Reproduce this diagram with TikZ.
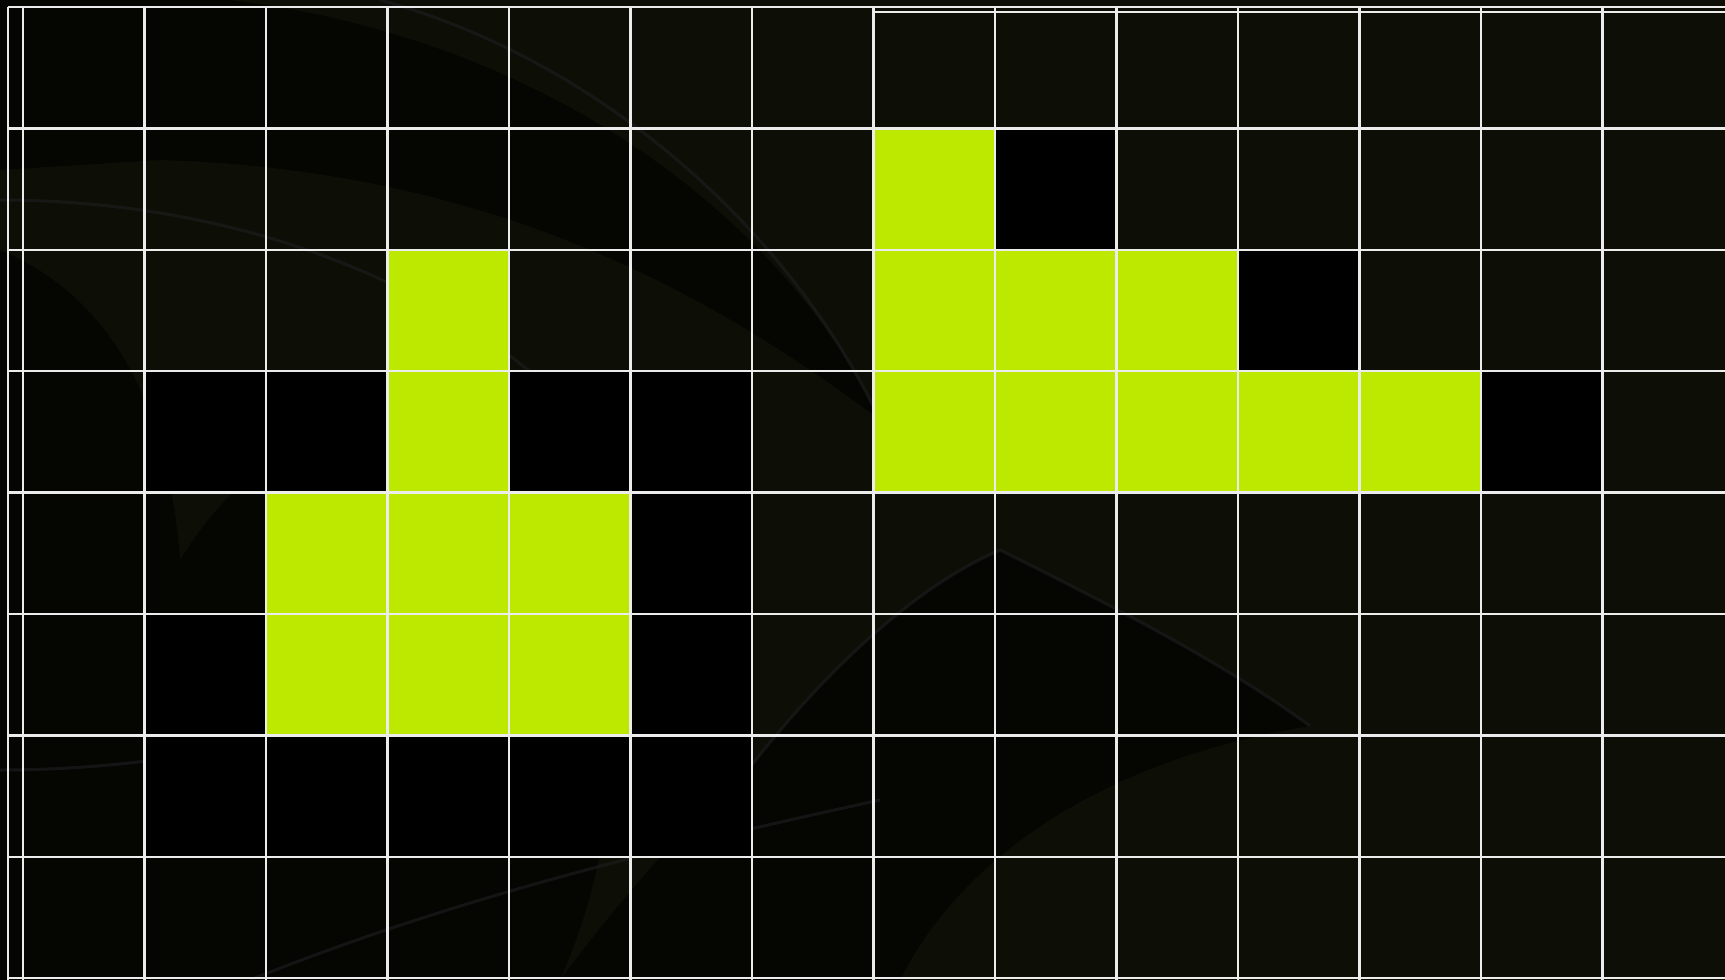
\documentclass[tikz,border=0pt]{standalone}
\definecolor{bgdark}{RGB}{13,14,6}
\definecolor{lime}{RGB}{189,232,0}
\definecolor{gridline}{RGB}{236,236,236}
\definecolor{swoosh}{RGB}{30,30,33}
\newcommand\gcell[3]{\fill[#3] ({23+121.5*#1},{7+121.4*#2}) rectangle ({23+121.5*(#1+1)},{7+121.4*(#2+1)});}
\begin{document}
\begin{tikzpicture}[x=1pt,y=-1pt,
  gridl/.style={draw=gridline, line width=2.4pt},
  shade1/.style={fill=black, opacity=0.55},
  edge1/.style={draw=swoosh, line width=3pt, opacity=0.6}]
\useasboundingbox (0,0) rectangle (1725,980);
\fill[bgdark] (0,0) rectangle (1725,980);
% background swooshes (decorative)
\fill[shade1] (230,0) .. controls (560,40) and (790,230) .. (880,420)
   .. controls (720,300) and (500,170) .. (160,160) -- (0,170) -- (0,0) -- cycle;
\draw[edge1] (380,0) .. controls (600,60) and (790,230) .. (880,420);
\draw[edge1] (0,200) .. controls (200,200) and (400,260) .. (540,380);
\fill[shade1] (0,250) .. controls (120,300) and (170,420) .. (180,560)
   .. controls (230,480) and (300,420) .. (420,400)
   .. controls (640,560) and (640,800) .. (560,980) -- (0,980) -- cycle;
\fill[shade1] (740,780) .. controls (840,650) and (930,580) .. (1000,550)
   .. controls (1100,600) and (1220,660) .. (1310,726)
   .. controls (1100,760) and (960,860) .. (900,980) -- (560,980)
   .. controls (620,900) and (680,830) .. (740,780) -- cycle;
\draw[edge1] (740,780) .. controls (840,650) and (930,580) .. (1000,550) .. controls (1100,600) and (1220,660) .. (1310,726);
\draw[edge1] (0,770) .. controls (150,770) and (300,740) .. (420,700);
\draw[edge1] (250,980) .. controls (450,900) and (650,850) .. (880,800);
% explicit black cells
\gcell{8}{1}{black}
\gcell{10}{2}{black}
\gcell{1}{3}{black}\gcell{2}{3}{black}\gcell{4}{3}{black}\gcell{5}{3}{black}\gcell{12}{3}{black}
\gcell{5}{4}{black}
\gcell{1}{5}{black}\gcell{5}{5}{black}
\foreach \c in {1,...,5} {\gcell{\c}{6}{black}}
% green cells
\gcell{7}{1}{lime}
\gcell{3}{2}{lime}\gcell{7}{2}{lime}\gcell{8}{2}{lime}\gcell{9}{2}{lime}
\gcell{3}{3}{lime}
\foreach \c in {7,...,11} {\gcell{\c}{3}{lime}}
\foreach \c in {2,3,4} {\gcell{\c}{4}{lime}\gcell{\c}{5}{lime}}
% grid lines
\foreach \c in {0,...,13} {\draw[gridl] ({23+121.5*\c},7) -- ({23+121.5*\c},980);}
\draw[gridl] (8,7) -- (8,980);
\foreach \r in {0,...,8} {\draw[gridl] (8,{7+121.4*\r}) -- (1725,{7+121.4*\r});}
\draw[gridl, line width=1.6pt] (874,12) -- (1725,12);
\end{tikzpicture}
\end{document}
